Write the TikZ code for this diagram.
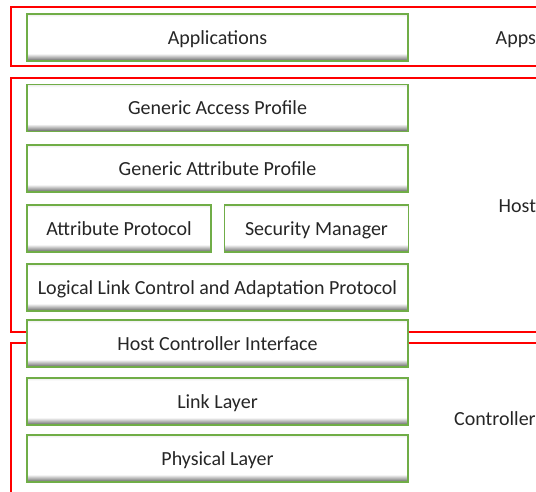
\documentclass[tikz,border=0pt]{standalone}
\usepackage{fontspec}
\setmainfont{Carlito}
\usepackage{tikz}
\usetikzlibrary{positioning,calc}

% soft bevel at the bottom of each layer box
\pgfdeclareverticalshading{layershade}{100bp}{%
    color(0bp)=(black!72);
    color(25bp)=(black!65);
    color(28bp)=(black!38);
    color(33bp)=(white);
    color(72bp)=(white);
    color(75bp)=(black!8);
    color(100bp)=(black!8)}

\definecolor{layergreen}{RGB}{112,173,71}

\begin{document}
\begin{tikzpicture}[
    x=1pt, y=-1pt,
    layer/.style={
        draw=layergreen,
        line width=1.1pt,
        shading=layershade,
        align=center,
        minimum width=381pt,
        minimum height=47pt,
        inner sep=0pt,
        text height=16pt,
        text depth=2.2pt,
        text=black!85,
        font=\fontsize{20}{23}\selectfont
    },
    half/.style={
        layer,
        minimum width=184pt
    },
    frame/.style={draw=red, line width=1.8pt},
    tag/.style={anchor=west, inner sep=0pt, text=black!85,
        text height=16pt, text depth=2.2pt,
        font=\fontsize{20}{23}\selectfont}
]

\useasboundingbox (0,0) rectangle (536,492);

% ============================================================
% Apps
% ============================================================

\node[layer] (apps) at (217.5,37.5) {Applications};

\coordinate (appstr) at (536,7);
\coordinate (appsbr) at (536,66);
\draw[frame] (appstr) -| (11,66) -- (appsbr);

\node[tag] (appslabel) at (495.5,38) {Apps};

% ============================================================
% Host
% ============================================================

\node[layer] (gap) at (217.5,108) {Generic Access Profile};

\node[layer] (gatt) at (217.5,168.5) {Generic Attribute Profile};

\node[half] (att) at (119,228.5) {Attribute Protocol};

\node[half] (sm) at (316.5,228.5) {Security Manager};

\node[layer] (l2cap) at (217.5,287.5) {Logical Link Control and Adaptation Protocol};

\node[tag] (hostlabel) at (498.5,206) {Host};

% ============================================================
% Host controller interface
% ============================================================

\node[layer] (hci) at (217.5,343.5) {Host Controller Interface};

% Host frame closes on the interface box
\coordinate (hosttr) at (536,78);
\coordinate (hostbr) at (536,332);
\draw[frame] (hosttr) -| (11,332) -- (hci.west |- hostbr);
\draw[frame] (hci.east |- hostbr) -- (hostbr);

% ============================================================
% Controller
% ============================================================

\node[layer] (ll) at (217.5,401.5) {Link Layer};

\node[layer] (phy) at (217.5,458.5) {Physical Layer};

\node[tag] (ctrllabel) at (454,419) {Controller};

% Controller frame opens from the interface box
\coordinate (ctrltr) at (536,343);
\coordinate (ctrlbl) at (11,492);
\draw[frame] (ctrlbl) |- (hci.west |- ctrltr);
\draw[frame] (hci.east |- ctrltr) -- (ctrltr);

\end{tikzpicture}
\end{document}
